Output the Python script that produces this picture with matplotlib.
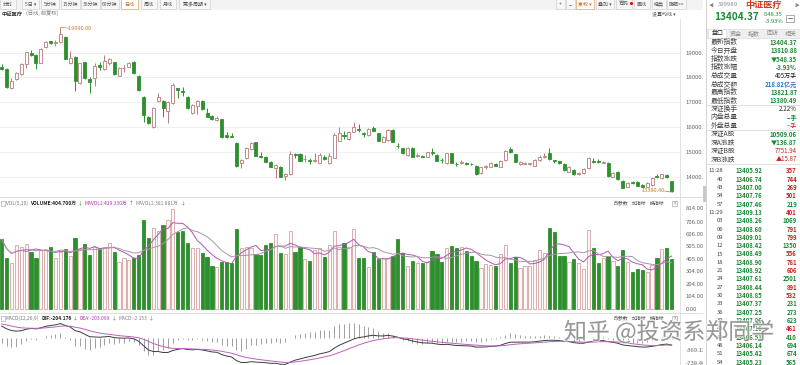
import numpy as np
import pandas as pd
import matplotlib
matplotlib.use('Agg')
import matplotlib.pyplot as plt
from matplotlib.patches import Rectangle
import matplotlib.patheffects as pe

plt.rcParams['font.family'] = ['Noto Sans CJK SC', 'DejaVu Sans']

# ---------------- data ----------------
opens = [18435, 18341, 17575, 17925, 18126, 18529, 18999, 18905, 18596, 19214,
         19455, 19402, 19429, 19644, 18596, 18838, 17763, 18609, 17938, 17965,
         18489, 18341, 18569, 18609, 18072, 18368, 18435, 18636, 18072, 17226,
         16420, 16017, 17065, 17051, 16649, 16958, 17562, 17454, 17226, 16555,
         16850, 17065, 16582, 16447, 16286, 16313, 15682, 15655, 15373, 14567,
         14741, 15104, 15386, 14822, 14809, 14607, 14339, 14406, 14030, 14097,
         14903, 14916, 14701, 14661, 14634, 14567, 14809, 14567, 14768, 15454,
         15695, 15521, 15816, 15910, 15749, 15682, 15950, 15749, 15413, 15480,
         15883, 15252, 15145, 14876, 15171, 14822, 14822, 14809, 14983, 14876,
         14688, 14540, 14943, 14527, 14540, 14567, 14527, 14446, 14137, 14393,
         14406, 14500, 14406, 14674, 15104, 14903, 14513, 14527, 14513, 14446,
         14674, 14795, 14970, 14661, 14621, 14513, 14205, 14272, 14124, 14137,
         14339, 14621, 14621, 14567, 14567, 14003, 14205, 13829, 13600, 13775,
         13802, 13667, 13600, 13667, 14016, 13936, 14070, 13811]
highs = [18529, 18368, 17965, 18207, 18569, 19039, 19106, 18932, 19173, 19455,
         19482, 19509, 19990, 19670, 19079, 18865, 18596, 18636, 18032, 18569,
         18636, 18905, 18771, 18636, 18435, 18502, 18609, 18663, 18099, 17253,
         16447, 16823, 17360, 17092, 17065, 17763, 17589, 17629, 17253, 16931,
         17092, 17092, 16756, 16488, 16447, 16340, 15816, 15749, 15400, 14701,
         15212, 15413, 15413, 15010, 14835, 14634, 14513, 14433, 14164, 15050,
         14943, 14943, 14876, 14741, 14970, 14943, 14876, 14943, 15776, 15991,
         15843, 15856, 16219, 16125, 15816, 15950, 16044, 15776, 15655, 15923,
         15910, 15346, 15171, 15212, 15198, 14970, 14876, 15010, 15145, 14903,
         14768, 14970, 14970, 14607, 14674, 14594, 14567, 14473, 14406, 14473,
         14580, 14540, 14674, 15077, 15212, 14930, 14634, 14594, 14567, 14714,
         14876, 14943, 15171, 14674, 14648, 14540, 14433, 14299, 14191, 14352,
         14809, 14768, 14701, 14634, 14594, 14205, 14232, 13855, 13788, 13815,
         13829, 13694, 13775, 13976, 14111, 14124, 14097, 13822]
lows = [18300, 17575, 17548, 17898, 18099, 18368, 18865, 18354, 18569, 19187,
        19348, 19281, 19402, 18730, 18542, 17468, 17736, 17938, 17387, 17669,
        18300, 18300, 18502, 18099, 18045, 18233, 18408, 18139, 17468, 16219,
        16125, 15950, 17025, 16420, 16152, 16931, 17159, 17253, 16729, 16528,
        16514, 16689, 16393, 16286, 16246, 15561, 15574, 15588, 14406, 14339,
        14701, 15077, 14822, 14741, 14580, 14379, 13936, 13976, 13869, 14070,
        14741, 14621, 14607, 14513, 14580, 14540, 14674, 14500, 14741, 15427,
        15521, 15494, 15789, 15789, 15588, 15655, 15830, 15427, 15386, 15454,
        15386, 15145, 14916, 14849, 14782, 14782, 14782, 14782, 14876, 14621,
        14567, 14513, 14540, 14433, 14513, 14486, 14460, 14070, 14111, 14299,
        14379, 14419, 14379, 14648, 14956, 14580, 14486, 14500, 14473, 14419,
        14648, 14768, 14674, 14540, 14513, 14245, 14178, 14084, 14084, 14111,
        14312, 14567, 14540, 14540, 14003, 13976, 13869, 13533, 13573, 13721,
        13613, 13573, 13573, 13640, 13963, 13909, 13949, 13380]
closes = [18341, 17602, 17857, 18166, 18529, 19012, 18918, 18569, 19147, 19415,
          19375, 19429, 19751, 18744, 18771, 17857, 18569, 17965, 17831, 18462,
          18435, 18663, 18730, 18126, 18395, 18395, 18569, 18166, 17495, 16488,
          16152, 16783, 17199, 16783, 17025, 17696, 17495, 17414, 16756, 16890,
          17065, 16716, 16420, 16313, 16380, 15588, 15615, 15615, 14446, 14674,
          15171, 15373, 14849, 14795, 14607, 14406, 14473, 14003, 14111, 14903,
          14876, 14648, 14728, 14634, 14661, 14876, 14701, 14849, 15682, 15749,
          15655, 15816, 15991, 15870, 15709, 15910, 15856, 15454, 15615, 15883,
          15413, 15225, 14943, 15171, 14809, 14862, 14809, 14983, 14956, 14648,
          14661, 14943, 14567, 14500, 14607, 14513, 14500, 14111, 14379, 14419,
          14540, 14446, 14648, 15050, 14983, 14607, 14607, 14554, 14527, 14674,
          14809, 14822, 14701, 14634, 14540, 14272, 14406, 14111, 14151, 14312,
          14741, 14594, 14594, 14594, 14030, 14137, 13896, 13560, 13761, 13748,
          13640, 13600, 13734, 13936, 13990, 14097, 13976, 13404]
volumes = [562, 413, 367, 516, 503, 524, 462, 413, 476, 481,
           497, 408, 462, 481, 427, 575, 484, 521, 435, 503,
           494, 503, 530, 462, 381, 408, 395, 408, 435, 719,
           570, 651, 629, 678, 719, 808, 624, 629, 530, 489,
           489, 448, 421, 346, 341, 381, 376, 373, 643, 489,
           503, 489, 440, 435, 516, 530, 602, 448, 440, 629,
           462, 503, 403, 389, 476, 489, 421, 516, 629, 503,
           535, 503, 643, 408, 413, 341, 457, 403, 408, 408,
           430, 562, 448, 349, 386, 367, 373, 381, 467, 440,
           381, 489, 508, 494, 503, 467, 430, 386, 332, 359,
           354, 346, 440, 516, 373, 416, 327, 349, 346, 394,
           475, 448, 656, 619, 430, 427, 381, 400, 367, 322,
           637, 489, 367, 413, 427, 386, 349, 476, 380, 295,
           319, 313, 295, 350, 408, 480, 490, 405]

price_ticks = [14000, 15000, 16000, 17000, 18000, 19000]
vol_ticks = [0, 104, 204, 304, 405, 505, 606, 706, 814]
macd_ticks = [-369.12, -738.40]
dif_start, dea_start = 384, 446          # read at the left edge of the MACD pane
high_mark, low_mark = 19990.00, 13380.40

toolbar_left = ["分时", "5日 ▾", "5分钟", "15分钟", "30分钟", "60分钟", "日线", "周线", "月线", "更多周期 ▾"]
toolbar_right = ["+", "−", "复权 ▾", "叠加 ▾", "筹码", "画线", "经典", "隐藏>>"]

info_labels = ["最新指数", "今日开盘", "指数涨跌", "指数涨幅", "总成交量", "总成交额", "最高指数",
               "最低指数", "深证换手", "内盘总量", "外盘总量", "深证A股", "深A涨跌", "深证B股", "深B涨跌"]
info_values = ["13404.37", "13810.88", "▼548.35", "-3.93%", "405万手", "218.82亿元", "13821.87",
               "13380.49", "2.22%", "--手", "--手", "10509.06", "▼136.87", "7751.94", "▲15.87"]
info_kinds = ["g", "g", "g", "g", "k", "b", "g", "g", "k", "g", "r", "g", "g", "r", "r"]

tick_times = ["11:28", "40", "43", "54", "57", "11:29", "03", "06", "09", "12", "15", "18",
              "21", "24", "27", "30", "33", "36", "39", "42", "45", "48", "51", "54"]
tick_prices = [13405.92, 13406.74, 13407.00, 13407.76, 13407.46, 13409.13, 13408.26, 13408.60,
               13409.01, 13408.42, 13408.49, 13408.90, 13408.92, 13407.61, 13408.44, 13408.85,
               13407.37, 13407.25, 13407.06, 13407.16, 13406.51, 13406.14, 13405.42, 13405.23]
tick_vols = [357, 744, 269, 501, 219, 401, 1069, 791, 799, 1350, 556, 781, 606, 2501, 891,
             532, 231, 273, 623, 461, 410, 694, 674, 565]

# ---------------- styling ----------------
GREEN = '#2f8f2f'
UP_EDGE = '#b77a7a'
VOL_UP_EDGE = '#d3a3a3'
GRAY = '#666666'
ORANGE = '#c7782a'
TXT_G = '#1b8a35'
TXT_R = '#c8231f'

W, H = 800, 365
fig = plt.figure(figsize=(8, 3.65), dpi=100, facecolor='white')
renderer = fig.canvas.get_renderer()


def px_axes(x0, y0, x1, y1, z=1):
    ax = fig.add_axes([x0 / W, 1 - y1 / H, (x1 - x0) / W, (y1 - y0) / H])
    ax.set_zorder(z)
    return ax


opens = np.array(opens, float); highs = np.array(highs, float)
lows = np.array(lows, float); closes = np.array(closes, float)
volumes = np.array(volumes, float)
n = len(closes)
x = np.arange(n)
up = closes >= opens

SP = 4.89          # pixels per candle
X0 = 1.7           # pixel of first candle
CHART_R = 680
xlim = ((0 - X0) / SP, (CHART_R - X0) / SP)


def style_axis(ax):
    for s in ax.spines.values():
        s.set_visible(False)
    ax.set_xlim(*xlim)
    ax.set_xticks([])
    ax.yaxis.tick_right()
    ax.tick_params(axis='y', length=0, pad=4, labelsize=4.3, labelcolor=GRAY)
    ax.patch.set_alpha(0)


# ---------------- price pane ----------------
axp = px_axes(0, 20, CHART_R, 196, z=1)
style_axis(axp)
axp.set_ylim(13222, 20315)
axp.set_yticks(price_ticks)
axp.set_yticklabels([f"{v:.1f}" for v in price_ticks])
for v in price_ticks:
    axp.axhline(v, color='#ececec', lw=0.6, zorder=0)

body_lo = np.minimum(opens, closes)
body_hi = np.maximum(opens, closes)
body_h = np.maximum(body_hi - body_lo, 30)
col_face = np.where(up, 'white', GREEN)
col_edge = np.where(up, UP_EDGE, GREEN)
axp.vlines(x, body_hi, highs, colors=col_edge, lw=0.7, zorder=2)
axp.vlines(x, lows, body_lo, colors=col_edge, lw=0.7, zorder=2)
axp.bar(x, body_h, bottom=body_lo, width=0.62, color=col_face, edgecolor=col_edge,
        linewidth=0.6, zorder=3)

ih = int(np.argmax(highs))
axp.plot([ih, ih, ih + 0.9], [highs[ih], highs[ih] + 60, highs[ih] + 60], color=ORANGE, lw=0.5)
axp.text(ih + 1.0, highs[ih] - 10, f"~{high_mark:.2f}", color=ORANGE, fontsize=4, va='center', ha='left')
il = int(np.argmin(lows))
axp.plot([il - 1.4, il], [lows[il] + 40, lows[il]], color=ORANGE, lw=0.5)
axp.text(il - 1.5, lows[il] + 70, f"{low_mark:.2f}", color=ORANGE, fontsize=4, va='center', ha='right')

# ---------------- volume pane ----------------
axv = px_axes(0, 197, CHART_R, 311, z=1)
style_axis(axv)
axv.set_ylim(-18.6, 904.8)
axv.set_yticks(vol_ticks)
axv.set_yticklabels([f"{v:.2f}" for v in vol_ticks])
vface = np.where(up, '#fff7f7', GREEN)
vedge = np.where(up, VOL_UP_EDGE, GREEN)
axv.bar(x, volumes, width=0.66, color=vface, edgecolor=vedge, linewidth=0.6, zorder=2)
ma5 = pd.Series(volumes).rolling(5, min_periods=1).mean().values
ma10 = pd.Series(volumes).rolling(10, min_periods=1).mean().values
axv.plot(x, ma5, color='#b455b4', lw=0.7, zorder=3)
axv.plot(x, ma10, color='#a896a8', lw=0.7, zorder=3)

# ---------------- MACD pane ----------------
axm = px_axes(0, 321, CHART_R, 365, z=1)
style_axis(axm)
axm.set_ylim(-815, 538)
axm.set_yticks(macd_ticks)
axm.set_yticklabels([f"{v:.2f}" for v in macd_ticks])
a12, a26, a9 = 2 / 13, 2 / 27, 2 / 10
ema12 = closes[0]
ema26 = closes[0] - dif_start
dea = dea_start
difs, deas = [dif_start], [dea_start]
for c in closes[1:]:
    ema12 += a12 * (c - ema12)
    ema26 += a26 * (c - ema26)
    d = ema12 - ema26
    dea += a9 * (d - dea)
    difs.append(d)
    deas.append(dea)
difs = np.array(difs); deas = np.array(deas)
hist = 2 * (difs - deas)
axm.vlines(x, 0, hist, colors='#a0a0a0', lw=0.7, zorder=2)
axm.plot(x, difs, color='#3c3c3c', lw=0.7, zorder=3)
axm.plot(x, deas, color='#c060c0', lw=0.7, zorder=3)

# ---------------- overlay: toolbar, headers, separators ----------------
ov = px_axes(0, 0, W, H, z=3)
ov.set_xlim(0, W); ov.set_ylim(H, 0); ov.axis('off')


def seq_text(ax, x0, y, parts, fs, gap=1.6):
    xx = x0
    for txt, col, bold in parts:
        t = ax.text(xx, y, txt, fontsize=fs, color=col, va='center', ha='left',
                    fontweight='bold' if bold else 'normal')
        xx += t.get_window_extent(renderer).width + gap
    return xx


ov.add_patch(Rectangle((0, 0), 703, 10, facecolor='#f3f3f3', edgecolor='none'))
left_spans = [(0, 16), (22, 39), (41, 59), (61, 80), (81, 100), (101, 119), (121, 138),
              (141, 157), (160, 176), (179, 210)]
for (a, b), lab in zip(left_spans, toolbar_left):
    sel = lab == "日线"
    ov.add_patch(Rectangle((a, -1), b - a, 10, facecolor='white' if sel else '#f7f7f7',
                           edgecolor='#e3a568' if sel else '#d2d2d2', lw=0.5))
    ov.text((a + b) / 2, 4.3, lab, fontsize=3.6, ha='center', va='center',
            color='#c86a1e' if sel else '#555555')
right_spans = [(556, 565), (566, 575), (576, 594), (596, 614), (616, 632), (634, 650),
               (652, 666), (667, 686)]
for (a, b), lab in zip(right_spans, toolbar_right):
    sel = lab.startswith("复权")
    ov.add_patch(Rectangle((a, -1), b - a, 10, facecolor='white' if sel else '#f7f7f7',
                           edgecolor='#e3a568' if sel else '#d2d2d2', lw=0.5))
    ov.text((a + b) / 2, 4.3, lab, fontsize=3.6, ha='center', va='center',
            color='#c86a1e' if sel else '#555555')
ov.plot([630.5], [2.5], marker='o', ms=1.2, color='red')

seq_text(ov, 2, 14.2, [("中证医疗", '#333333', True), ("(日线, 前复权)", '#777777', False)], 3.8, gap=3)
ov.text(652, 14.2, "设置均线 ▾", fontsize=3.6, color='#555555', va='center')

# separators
ov.plot([0, 703], [196.5, 196.5], color='#d8d8d8', lw=0.6)
ov.plot([0, 703], [312.5, 312.5], color='#d8d8d8', lw=0.6)
ov.plot([CHART_R, CHART_R], [19, 365], color='#dddddd', lw=0.6)


def header(y, parts):
    ov.add_patch(Rectangle((0.5, y - 2.5), 4, 5, facecolor='white', edgecolor='#999999', lw=0.4))
    seq_text(ov, 6, y, parts, 3.5, gap=1.8)


header(203.5, [("VOL(5,10)", '#777777', False),
               ("VOLUME:404.700万", '#222222', True),
               ("↓", '#2a8a2a', False),
               ("MAVOL1:429.330万", '#b030b0', False),
               ("↑", '#cc2020', False),
               ("MAVOL2:381.881万", '#8a7a8a', False),
               ("↓", '#2a8a2a', False)])
header(318.5, [("MACD(12,26,9)", '#777777', False),
               ("DIF:-204.176", '#222222', True),
               ("↓", '#2a8a2a', False),
               ("DEA:-203.099", '#b030b0', False),
               ("↓", '#2a8a2a', False),
               ("MACD:-2.153", '#8a7a8a', False),
               ("↓", '#2a8a2a', False)])
for yy in (203.5, 318.5):
    seq_text(ov, 614, yy, [("改参数", '#555555', False), ("加指标", '#555555', False),
                           ("换指标", '#555555', False)], 3.5, gap=3.5)
    ov.add_patch(Rectangle((672, yy - 2.5), 5, 5, facecolor='white', edgecolor='#999999', lw=0.4))
    ov.text(674.5, yy, "×", fontsize=3.2, color='#777777', ha='center', va='center')

# ---------------- right info panel ----------------
rp = px_axes(703, 0, W, H, z=4)
rp.set_xlim(703, W); rp.set_ylim(H, 0); rp.axis('off')
rp.add_patch(Rectangle((703, 0), 97, H, facecolor='white', edgecolor='none'))
rp.plot([706, 706], [0, H], color='#cccccc', lw=0.6)
rp.add_patch(Rectangle((703.3, 186), 2.2, 16, facecolor='#c8c8c8', edgecolor='none'))

rp.text(709, 5, "◀", fontsize=3.5, color='#888888', va='center')
rp.text(718, 5, "399989", fontsize=4.3, color='#888888', va='center')
rp.text(745, 5.3, "中证医疗", fontsize=6.6, color='#d2401a', va='center', fontweight='bold')
rp.text(794, 5, "▶", fontsize=3.5, color='#888888', va='center')
rp.text(714, 17.5, "13404.37", fontsize=7.2, color=TXT_G, va='center', fontweight='bold')
rp.text(783, 14.6, "-548.35", fontsize=4.2, color=TXT_G, va='center', ha='right')
rp.text(783, 21.6, "-3.93%", fontsize=4.2, color=TXT_G, va='center', ha='right')
rp.add_patch(Rectangle((786, 15), 8, 6.5, facecolor='white', edgecolor='#888888', lw=0.5))
rp.plot([788, 792], [18.25, 18.25], color='#666666', lw=0.6)

rp.add_patch(Rectangle((707, 29), 93, 9, facecolor='#efefef', edgecolor='#d8d8d8', lw=0.4))
tabs = ["盘口", "资金", "指数", "回访", "相关"]
for i, t in enumerate(tabs):
    tx = 709 + i * 18.3
    if i == 0:
        rp.add_patch(Rectangle((707.5, 29), 18, 9, facecolor='white', edgecolor='#d8d8d8', lw=0.4))
    rp.text(tx + 8.5, 33.6, t, fontsize=4.3, color='#333333' if i == 0 else '#888888',
            ha='center', va='center')

kind_col = {"g": TXT_G, "r": TXT_R, "k": '#222222', "b": '#2b6fbf'}
for i, (lab, val, kd) in enumerate(zip(info_labels, info_values, info_kinds)):
    yy = 42.3 + 8.35 * i
    rp.text(710.5, yy, lab, fontsize=4.9, color='#444444', va='center')
    rp.text(797, yy, val, fontsize=4.4, color=kind_col[kd], va='center', ha='right',
            fontweight='bold' if kd in 'gb' else 'normal')
for yy in (104.8, 130.0, 163.8):
    rp.plot([707, 800], [yy, yy], color='#d5d5d5', lw=0.5)

prev = None
for i, (t, p, v) in enumerate(zip(tick_times, tick_prices, tick_vols)):
    yy = 170.7 + 8.33 * i
    rp.text(723, yy, t, fontsize=4.2, color='#444444', va='center', ha='right')
    rp.text(735, yy, f"{p:.2f}", fontsize=4.3, color=TXT_G, va='center', ha='left', fontweight='bold')
    col = TXT_R if (prev is None or p > prev) else TXT_G
    rp.text(797, yy, str(v), fontsize=4.3, color=col, va='center', ha='right', fontweight='bold')
    prev = p

# ---------------- watermark ----------------
wm = px_axes(0, 0, W, H, z=10)
wm.set_xlim(0, W); wm.set_ylim(H, 0); wm.axis('off')
wm.patch.set_alpha(0)
wm.text(564, 332, "知乎 @投资系郑同学", fontsize=16.5, color='#8a8a8a', alpha=0.85,
        va='center', ha='left',
        path_effects=[pe.withStroke(linewidth=1.5, foreground='white', alpha=0.6)])

fig.savefig('out.png', dpi=100, facecolor='white')
